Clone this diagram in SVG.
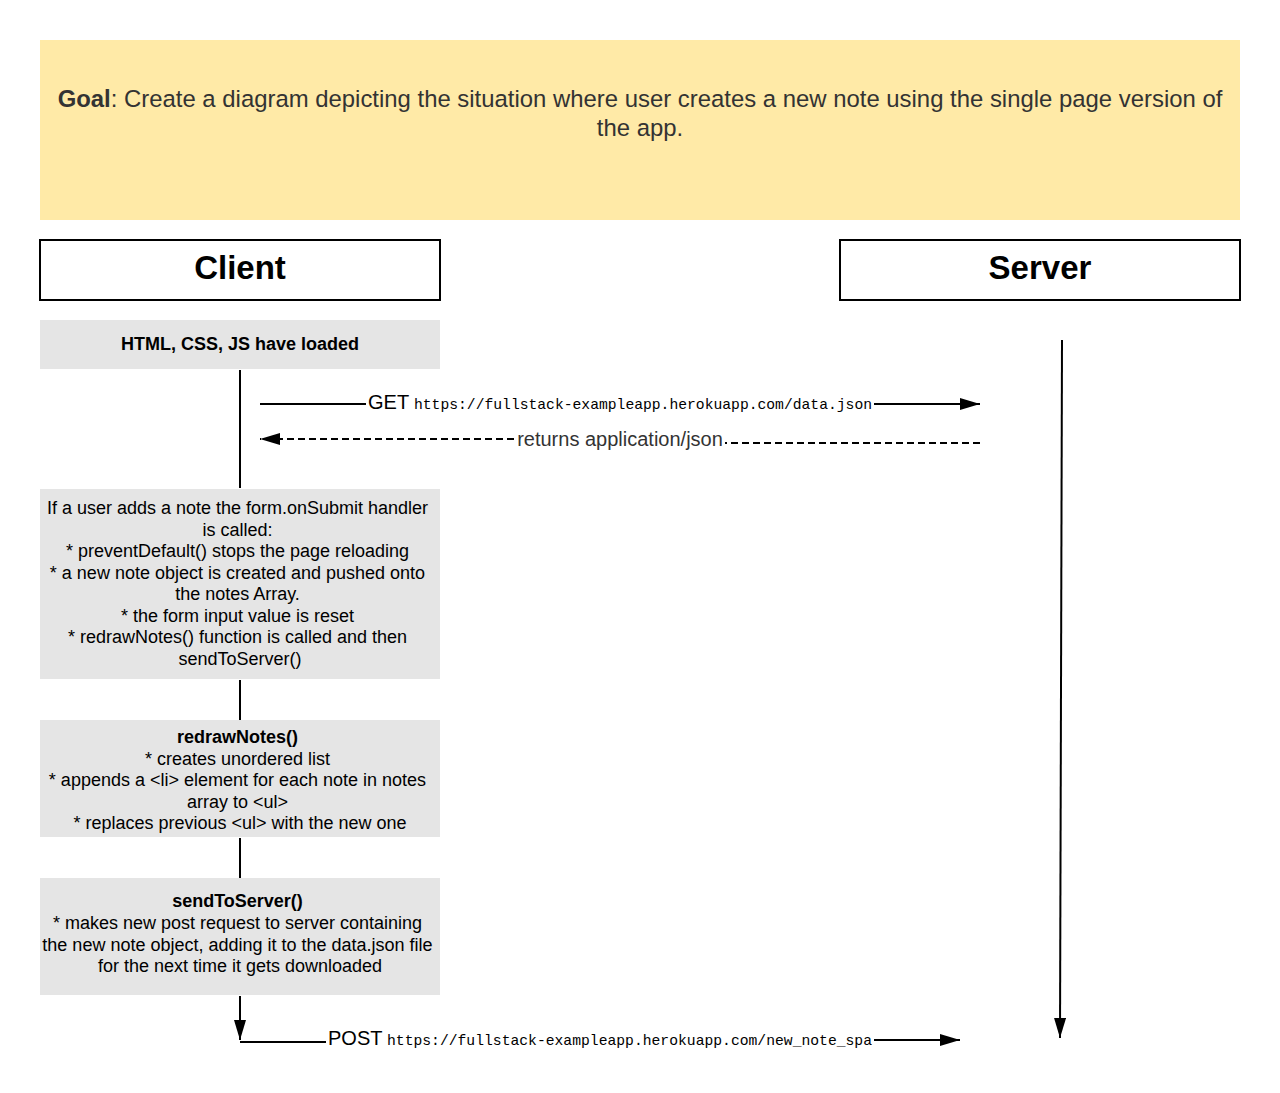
<svg xmlns="http://www.w3.org/2000/svg" width="1280" height="1093" viewBox="0 0 1280 1093">
<style>
.sans{font-family:"Liberation Sans",Arial,sans-serif;}
.mono{font-family:"Liberation Mono","DejaVu Sans Mono",monospace;font-size:15px;}
.hdr{fill:#fff;stroke:#000;stroke-width:2;}
.box{fill:#e5e5e5;}
.t{font-size:18px;fill:#000;text-anchor:middle;}
.b{font-weight:bold;}
.ln{stroke:#000;stroke-width:2;fill:none;}
</style>
<defs>
<marker id="ah" viewBox="0 0 20 12" refX="20" refY="6" markerWidth="20" markerHeight="12" markerUnits="userSpaceOnUse" orient="auto">
<path d="M0,0 L20,6 L0,12 Z" fill="#000"/>
</marker>
</defs>
<rect width="1280" height="1093" fill="#fff"/>
<g id="goal">
<rect x="40" y="40" width="1200" height="180" fill="#ffeaa7"/>
<text class="sans" font-size="23.9" fill="#333" text-anchor="middle"><tspan x="640" y="107"><tspan font-weight="bold">Goal</tspan>: Create a diagram depicting the situation where user creates a new note using the single page version of</tspan><tspan x="640" y="136">the app.</tspan></text>
</g>
<g id="client">
<rect class="hdr" x="40" y="240" width="400" height="60"/>
<text class="sans b" x="240" y="279" font-size="33" text-anchor="middle">Client</text>
</g>
<g id="server">
<rect class="hdr" x="840" y="240" width="400" height="60"/>
<text class="sans b" x="1040" y="279" font-size="33" text-anchor="middle">Server</text>
</g>
<g id="loaded">
<rect class="box" x="40" y="320" width="400" height="49"/>
<text class="sans t b" x="240" y="350">HTML, CSS, JS have loaded</text>
</g>
<g id="onsubmit">
<rect class="box" x="40" y="489" width="400" height="190"/>
<text class="sans t">
<tspan x="240" y="514">If a user adds a note the form.onSubmit handler</tspan>
<tspan x="240" y="536">is called:</tspan>
<tspan x="240" y="557">* preventDefault() stops the page reloading</tspan>
<tspan x="240" y="579">* a new note object is created and pushed onto</tspan>
<tspan x="240" y="600">the notes Array.</tspan>
<tspan x="240" y="622">* the form input value is reset</tspan>
<tspan x="240" y="643">* redrawNotes() function is called and then</tspan>
<tspan x="240" y="665">sendToServer()</tspan>
</text>
</g>
<g id="redraw">
<rect class="box" x="40" y="720" width="400" height="117"/>
<text class="sans t">
<tspan x="240" y="743" font-weight="bold">redrawNotes()</tspan>
<tspan x="240" y="765">* creates unordered list</tspan>
<tspan x="240" y="786">* appends a &lt;li&gt; element for each note in notes</tspan>
<tspan x="240" y="808">array to &lt;ul&gt;</tspan>
<tspan x="240" y="829">* replaces previous &lt;ul&gt; with the new one</tspan>
</text>
</g>
<g id="send">
<rect class="box" x="40" y="878" width="400" height="117"/>
<text class="sans t">
<tspan x="240" y="907" font-weight="bold">sendToServer()</tspan>
<tspan x="240" y="929">* makes new post request to server containing</tspan>
<tspan x="240" y="951">the new note object, adding it to the data.json file</tspan>
<tspan x="240" y="972">for the next time it gets downloaded</tspan>
</text>
</g>
<g id="connectors">
<line class="ln" x1="240" y1="370" x2="240" y2="488"/>
<line class="ln" x1="240" y1="680" x2="240" y2="720"/>
<line class="ln" x1="240" y1="838" x2="240" y2="878"/>
<line class="ln" x1="1062" y1="340" x2="1060" y2="1038" marker-end="url(#ah)"/>
<line class="ln" x1="260" y1="404" x2="366" y2="404"/>
<line class="ln" x1="874" y1="404" x2="980" y2="404" marker-end="url(#ah)"/>
<text class="sans" x="368" y="409" font-size="20">GET</text>
<text class="mono" x="414" y="409" textLength="458" lengthAdjust="spacingAndGlyphs">https://fullstack-exampleapp.herokuapp.com/data.json</text>
<line class="ln" x1="980" y1="443" x2="725" y2="443" stroke-dasharray="7,4"/>
<line class="ln" x1="514" y1="439" x2="260" y2="439" stroke-dasharray="7,4" marker-end="url(#ah)"/>
<text class="sans" x="620" y="446" font-size="20" fill="#333" text-anchor="middle">returns application/json</text>
<line class="ln" x1="240" y1="996" x2="240" y2="1040" marker-end="url(#ah)"/>
<line class="ln" x1="240" y1="1042" x2="326" y2="1042"/>
<line class="ln" x1="874" y1="1040" x2="960" y2="1040" marker-end="url(#ah)"/>
<text class="sans" x="328" y="1045" font-size="20">POST</text>
<text class="mono" x="387" y="1045" textLength="485" lengthAdjust="spacingAndGlyphs">https://fullstack-exampleapp.herokuapp.com/new_note_spa</text>
</g>
</svg>
